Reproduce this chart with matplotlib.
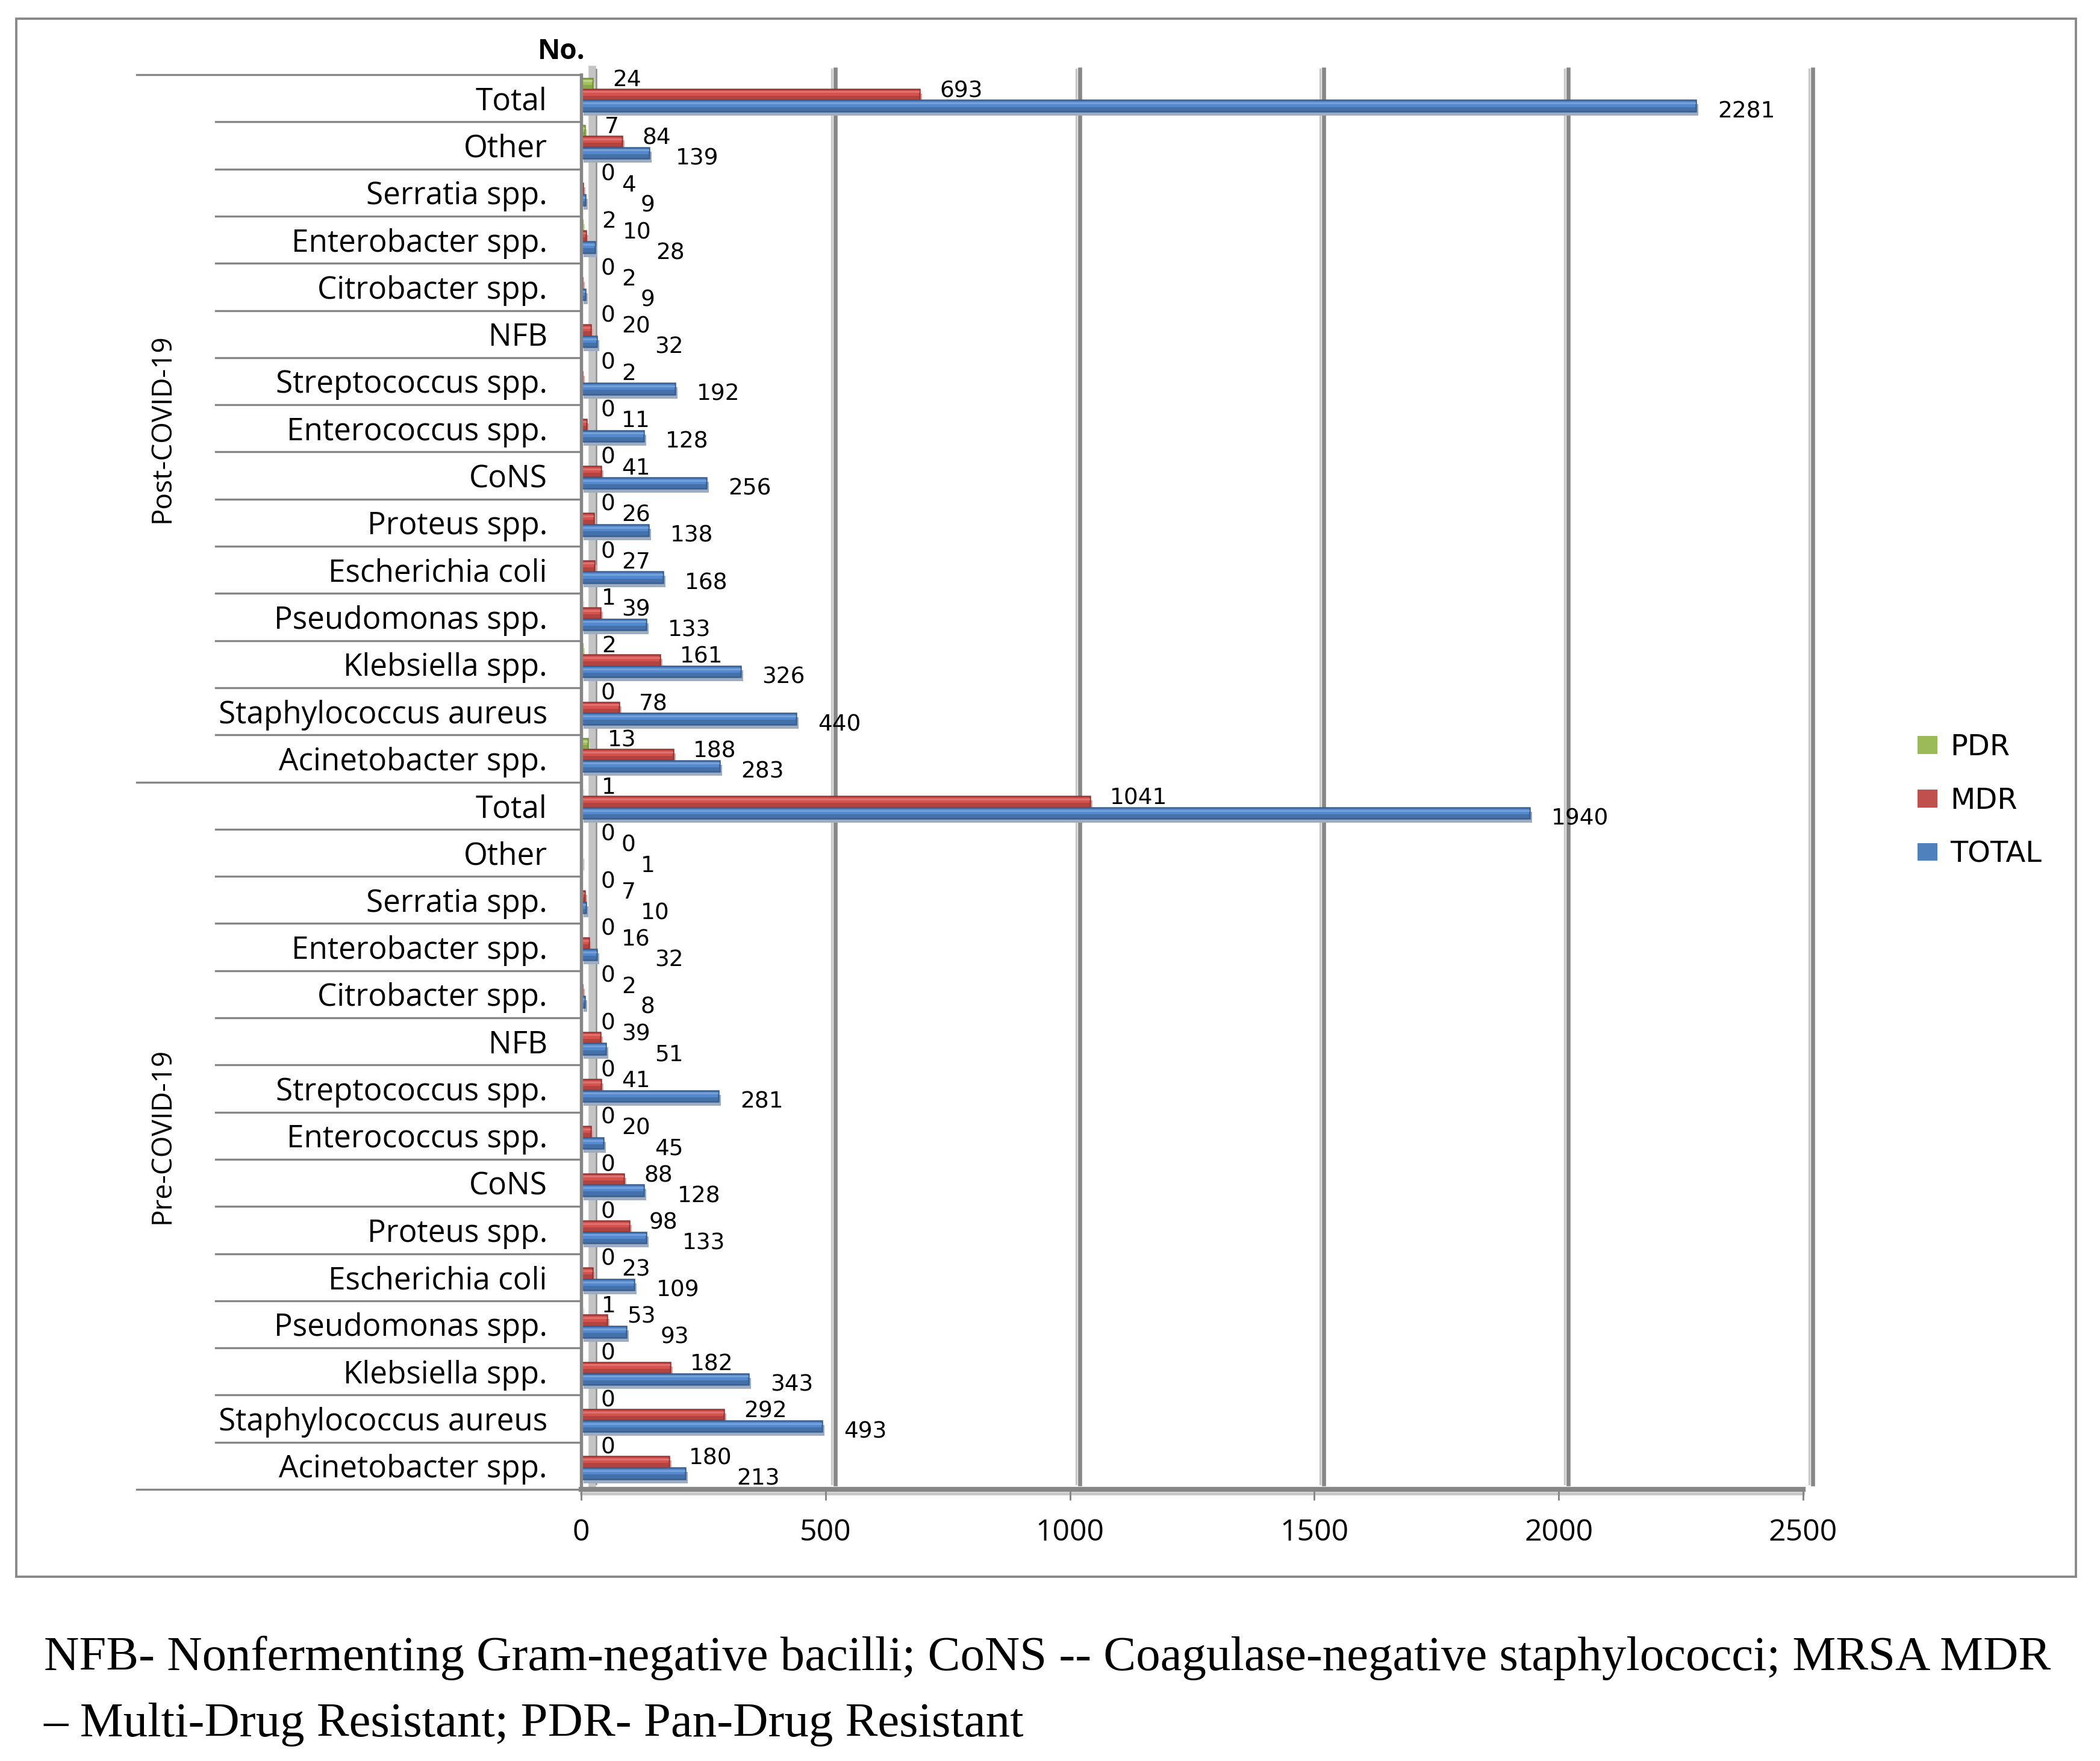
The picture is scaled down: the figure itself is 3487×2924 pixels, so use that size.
import numpy as np
import matplotlib
matplotlib.use('Agg')
import matplotlib.pyplot as plt
from matplotlib.transforms import ScaledTranslation, blended_transform_factory
from matplotlib.patches import Rectangle, Patch

# organisms, listed bottom -> top inside each period block
organisms = ['Acinetobacter spp.', 'Staphylococcus aureus', 'Klebsiella spp.', 'Pseudomonas spp.',
             'Escherichia coli', 'Proteus spp.', 'CoNS', 'Enterococcus spp.', 'Streptococcus spp.',
             'NFB', 'Citrobacter spp.', 'Enterobacter spp.', 'Serratia spp.', 'Other', 'Total']
periods = ['Pre-COVID-19', 'Post-COVID-19']

pre_pdr   = [0, 0, 0, 1, 0, 0, 0, 0, 0, 0, 0, 0, 0, 0, 1]
pre_mdr   = [180, 292, 182, 53, 23, 98, 88, 20, 41, 39, 2, 16, 7, 0, 1041]
pre_total = [213, 493, 343, 93, 109, 133, 128, 45, 281, 51, 8, 32, 10, 1, 1940]

post_pdr   = [13, 0, 2, 1, 0, 0, 0, 0, 0, 0, 0, 2, 0, 7, 24]
post_mdr   = [188, 78, 161, 39, 27, 26, 41, 11, 2, 20, 2, 10, 4, 84, 693]
post_total = [283, 440, 326, 133, 168, 138, 256, 128, 192, 32, 9, 28, 9, 139, 2281]

series = ['PDR', 'MDR', 'TOTAL']
x_ticks = [0, 500, 1000, 1500, 2000, 2500]

caption1 = 'NFB- Nonfermenting Gram-negative bacilli; CoNS -- Coagulase-negative staphylococci; MRSA MDR'
caption2 = '\u2013 Multi-Drug Resistant; PDR- Pan-Drug Resistant'

values = {'PDR': np.array(pre_pdr + post_pdr),
          'MDR': np.array(pre_mdr + post_mdr),
          'TOTAL': np.array(pre_total + post_total)}
labels = organisms + organisms
pos = np.arange(len(labels))

main_c   = {'PDR': '#A3C160', 'MDR': '#D4534F', 'TOTAL': '#5489CF'}
dark_c   = {'PDR': '#76923C', 'MDR': '#953735', 'TOTAL': '#3A5F8F'}
light_c  = {'PDR': '#C3DA8E', 'MDR': '#E27B78', 'TOTAL': '#7EA8DF'}
shadow_c = {'PDR': '#CBD9AC', 'MDR': '#D8A9A8', 'TOTAL': '#9DACC0'}
legend_c = {'PDR': '#9BBB59', 'MDR': '#C0504D', 'TOTAL': '#4F81BD'}
bar_off  = {'PDR': 0.31, 'MDR': 0.08, 'TOTAL': -0.16}
h = 0.235

W, H = 3487, 2924
DPI = 300
fx = lambda px: px / W
fy = lambda py: 1 - py / H
PT = DPI / 72.0          # pixels per point

plt.rcParams['font.family'] = ['Open Sans', 'DejaVu Sans']
fig = plt.figure(figsize=(W / DPI, H / DPI), dpi=DPI)
ax = fig.add_axes([fx(965), fy(2473), fx(2994) - fx(965), (2473 - 124) / H])
ax.set_xlim(0, 2500)
ax.set_ylim(-0.5, len(labels) - 0.5)
ylo, yhi = ax.get_ylim()
px_per_unit = (2994 - 965) / 2500.0

def shift(dx_px, dy_px):
    return ax.transData + ScaledTranslation(dx_px / DPI, dy_px / DPI, fig.dpi_scale_trans)

# back wall gridlines (3D offset)
for v in x_ticks[1:]:
    ax.plot([v, v], [ylo, yhi], color='#c8c8c8', lw=0.8, transform=shift(10, 9), clip_on=False, zorder=0.5)
    ax.plot([v, v], [ylo, yhi], color='#878787', lw=1.6, transform=shift(16, 9), clip_on=False, zorder=0.6)

# side wall of category axis
ax.plot([0, 0], [ylo, yhi], color='#c4c4c4', lw=3.0, transform=shift(18, 9), clip_on=False, zorder=0.5)
ax.plot([0, 0], [ylo, yhi], color='#8c8c8c', lw=0.6, transform=shift(25, 9), clip_on=False, zorder=0.6)
# floor
ax.plot([0, 2500], [ylo, ylo], color='#c8c8c8', lw=1.2, transform=shift(0, -7), clip_on=False, zorder=0.5)

for s in series:
    y = pos + bar_off[s]
    v = values[s]
    ax.barh(y, v, height=h, color=shadow_c[s], transform=shift(4, -7), zorder=1, clip_on=False)
    ax.barh(y, v, height=h, color=main_c[s], edgecolor=dark_c[s], linewidth=0.6, zorder=2)
    ax.barh(y - h * 0.3, v, height=h * 0.4, color=dark_c[s], alpha=0.55, linewidth=0, zorder=2.1)
    ax.barh(y + h * 0.22, v, height=h * 0.16, color=light_c[s], alpha=0.8, linewidth=0, zorder=2.1)

# data labels: PDR and MDR sit above, TOTAL below; labels are nudged right to clear each other
lab_fs = 9
digit_px = 0.636 * lab_fs * PT
gx, gdy = 33, 30     # pixels
rx, rdy = 33, 12
bx, bdy = 36, -22
for p, g, r, b in zip(pos, values['PDR'], values['MDR'], values['TOTAL']):
    g_left = g * px_per_unit + gx
    g_right = g_left + digit_px * len(str(g))
    r_left = max(r * px_per_unit + rx, g_right + 10)
    r_right = r_left + digit_px * len(str(r))
    b_left = b * px_per_unit + bx
    if b_left < r_right + 8:
        b_left = r_right + 8
    for val, left, dy in [(g, g_left, gdy), (r, r_left, rdy), (b, b_left, bdy)]:
        ax.annotate(str(val), xy=(val, p), xytext=((left - val * px_per_unit) / PT, dy / PT),
                    textcoords='offset points', ha='left', va='center',
                    fontsize=lab_fs, family='DejaVu Sans', zorder=3)

# axes styling
for side in ['top', 'right']:
    ax.spines[side].set_visible(False)
ax.spines['left'].set_color('#868686')
ax.spines['left'].set_linewidth(1.3)
ax.spines['bottom'].set_color('#868686')
ax.spines['bottom'].set_linewidth(2.0)
ax.set_xticks(x_ticks)
ax.tick_params(axis='x', direction='out', length=4.3, width=0.7, color='#868686', pad=7, labelsize=12)
ax.set_yticks(pos)
ax.set_yticklabels(labels)
ax.tick_params(axis='y', length=0, pad=13.5, labelsize=12.3)

# multi-level category dividers
tr = blended_transform_factory(fig.transFigure, ax.transData)
group_edges = [-0.5, 14.5, 29.5]
for b in np.arange(-0.5, len(labels), 1.0):
    x0 = fx(227) if b in group_edges else fx(358)
    ax.plot([x0, fx(963)], [b, b], color='#868686', lw=0.8, transform=tr, clip_on=False)

for i, per in enumerate(periods):
    ax.text(fx(270), i * 15 + 7, per, transform=tr, rotation=90, ha='center', va='center', fontsize=11)

fig.text(fx(932), fy(86), 'No.', ha='center', va='center', fontsize=11, fontweight='bold')

handles = [Patch(facecolor=legend_c[s], edgecolor='none') for s in series]
fig.legend(handles, series, loc='upper left', bbox_to_anchor=(fx(3184), fy(1217)), frameon=False,
           prop={'family': 'DejaVu Sans', 'size': 11.5}, handlelength=0.68, handleheight=0.58,
           handletextpad=0.45, labelspacing=0.87, borderpad=0, borderaxespad=0)

fig.add_artist(Rectangle((fx(27), fy(2618)), fx(3447) - fx(27), (2618 - 31) / H,
                         transform=fig.transFigure, fill=False, edgecolor='#878787', lw=0.9))

fig.text(fx(73), fy(2773), caption1, family='Liberation Serif', fontsize=19.4, va='baseline')
fig.text(fx(73), fy(2883), caption2, family='Liberation Serif', fontsize=19.4, va='baseline')

fig.savefig('out.png', dpi=DPI)
